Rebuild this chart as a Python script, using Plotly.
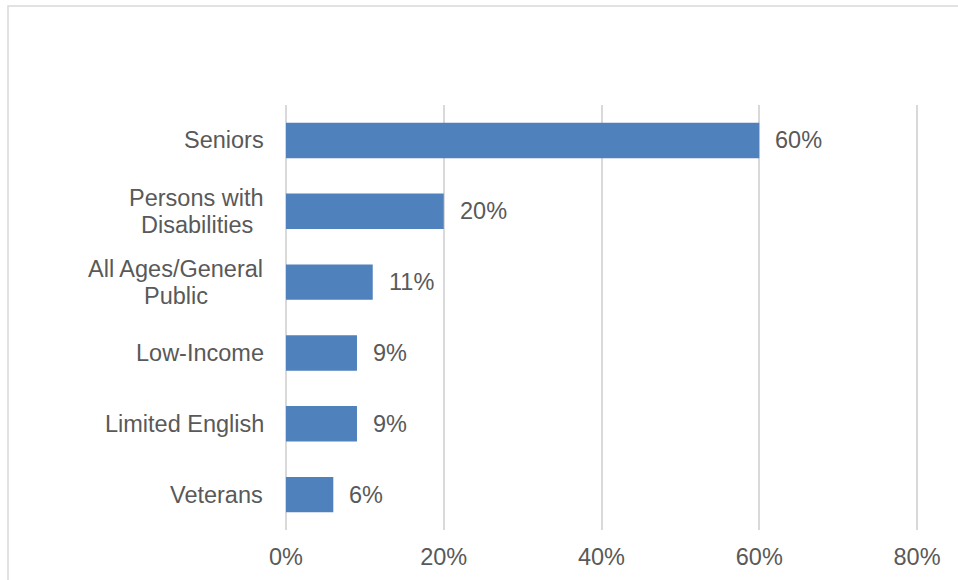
import plotly.graph_objects as go

# Share of respondents by population group served
groups = ["Seniors", "Persons with<br>Disabilities", "All Ages/General<br>Public",
          "Low-Income", "Limited English", "Veterans"]
shares = [60, 20, 11, 9, 9, 6]
x_ticks = [0, 20, 40, 60, 80]
x_tick_labels = ["0%", "20%", "40%", "60%", "80%"]

BAR_COLOR = "#4F81BD"
TEXT_COLOR = "#595959"
GRID_COLOR = "#D9D9D9"
FONT = "Liberation Sans, Arial, sans-serif"
FONT_SIZE = 23.5
LINE_GAP = 27      # pixel distance between lines of a wrapped category label
LABEL_GAP = 20     # space between category labels and the plot area

# Arial / Liberation Sans advance widths (per 1000 em) for centring wrapped labels
ADVANCE = {
    " ": 278, "A": 667, "D": 722, "E": 667, "G": 778, "I": 278, "L": 556,
    "P": 667, "S": 667, "V": 667, "a": 556, "b": 556, "c": 500, "d": 556,
    "e": 556, "g": 556, "h": 556, "i": 222, "l": 222, "m": 833, "n": 556,
    "o": 556, "r": 333, "s": 500, "t": 278, "u": 556, "w": 722, "/": 278,
    "-": 333,
}


def text_width(s):
    return sum(ADVANCE.get(c, 556) for c in s) * FONT_SIZE / 1000


W, H = 958, 580
M_L, M_R, M_T, M_B = 284, 39, 105, 50
plot_w = W - M_L - M_R
plot_h = H - M_T - M_B

fig = go.Figure(
    go.Bar(
        x=shares,
        y=groups,
        orientation="h",
        marker=dict(color=BAR_COLOR, line=dict(width=0)),
        hoverinfo="skip",
    )
)

# Value labels to the right of each bar
for g, v in zip(groups, shares):
    fig.add_annotation(
        x=v, y=g, xref="x", yref="y",
        text=f"{v}%", showarrow=False,
        xanchor="left", xshift=14,
        font=dict(family=FONT, size=FONT_SIZE, color=TEXT_COLOR),
    )

# Category labels; wrapped labels are centred line by line
for g in groups:
    lines = g.split("<br>")
    n = len(lines)
    widest = max(text_width(s) for s in lines)
    for i, line in enumerate(lines):
        fig.add_annotation(
            x=0, y=g, xref="paper", yref="y",
            text=line, showarrow=False,
            xanchor="center", xshift=-LABEL_GAP - widest / 2,
            yshift=((n - 1) / 2 - i) * LINE_GAP,
            font=dict(family=FONT, size=FONT_SIZE, color=TEXT_COLOR),
        )

# Outer chart frame
fig.add_shape(
    type="rect", xref="paper", yref="paper", layer="below",
    x0=(8 - M_L) / plot_w, x1=(W + 10 - M_L) / plot_w,
    y0=-(H + 10 - M_T - plot_h) / plot_h, y1=1 + (M_T - 6) / plot_h,
    line=dict(color=GRID_COLOR, width=1.5),
)

fig.update_layout(
    width=W, height=H,
    margin=dict(l=M_L, r=M_R, t=M_T, b=M_B, pad=0),
    paper_bgcolor="white", plot_bgcolor="white",
    bargap=0.5,
    showlegend=False,
    font=dict(family=FONT, size=FONT_SIZE, color=TEXT_COLOR),
    xaxis=dict(
        range=[-0.25, 80.25], tickvals=x_ticks, ticktext=x_tick_labels,
        showgrid=True, gridcolor=GRID_COLOR, gridwidth=1.5,
        zeroline=False, showline=False, ticks="",
        ticklabelstandoff=10, automargin=False,
        tickfont=dict(family=FONT, size=FONT_SIZE, color=TEXT_COLOR),
        fixedrange=True,
    ),
    yaxis=dict(
        categoryorder="array", categoryarray=groups, autorange="reversed",
        showticklabels=False, showgrid=False, zeroline=False, showline=False,
        ticks="", fixedrange=True, automargin=False,
    ),
)

fig.write_html("out.html", config={"displayModeBar": False})
